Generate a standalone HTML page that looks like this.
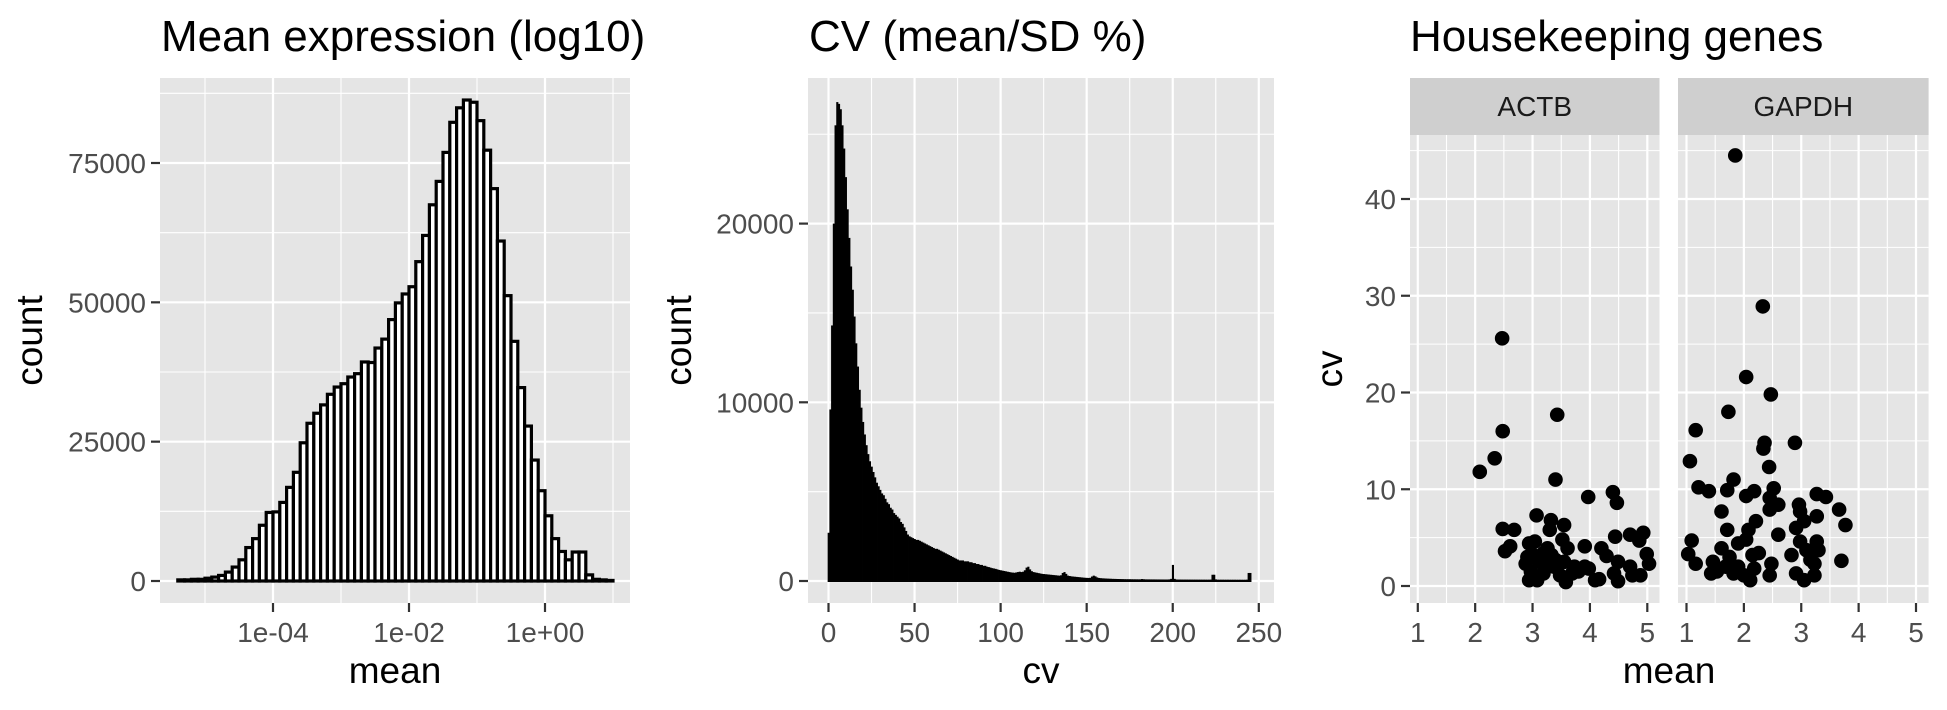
<!DOCTYPE html>
<html><head><meta charset="utf-8"><style>
html,body{margin:0;padding:0;background:#fff}
svg{display:block}
text{font-family:"Liberation Sans",Arial,sans-serif}
</style></head><body>
<svg id="chart" width="1947" height="710" viewBox="0 0 1947 710" xmlns="http://www.w3.org/2000/svg"></svg>
<script>
// ---- Panel 1 data: log10(mean) histogram, bins of 0.1 decade starting at -5.4
const meanBinStart = -5.4;
const meanBinWidth = 0.1;
const meanCounts = [200,200,300,300,500,700,1000,1600,2500,3800,6000,7600,10000,12300,12400,14100,16800,19500,24800,28300,30100,31600,33500,34800,35400,36600,37200,39300,39200,41800,43400,46900,49900,51500,52800,57300,62000,67500,71700,76900,82300,84900,86300,85900,82600,77300,70400,61000,51200,43000,34700,27800,21700,16200,11700,7600,5300,3800,5200,5200,1100,300,200,100];
const meanYTicks = [0,25000,50000,75000];
const meanXTicks = [-4,-2,0];
const meanXLabels = ["1e-04","1e-02","1e+00"];

// ---- Panel 2 data: cv histogram, bins of width 1 centred on 0..245
const cvCounts = [2700,9600,14300,20000,25500,26800,26700,26400,25500,24200,
22600,20800,19200,17600,16300,14800,13300,12000,10700,9700,
8900,8200,7600,7100,6700,6400,6100,5800,5500,5300,
5100,4900,4800,4600,4400,4300,4100,4000,3800,3700,
3600,3500,3300,3200,3000,2800,2600,2500,2450,2400,
2350,2300,2300,2250,2200,2150,2100,2050,2000,1950,
1900,1850,1800,1800,1750,1700,1650,1600,1550,1500,
1450,1400,1350,1300,1250,1200,1150,1150,1150,1100,
1100,1100,1050,1050,1000,1000,950,950,900,900,
850,850,800,780,750,720,700,680,650,620,
600,580,560,540,520,500,480,470,460,480,
500,520,500,520,600,750,800,650,550,500,
480,460,440,420,400,390,380,370,360,350,
340,330,320,310,300,320,450,500,400,300,
280,260,250,240,230,220,210,200,190,180,
175,170,180,250,300,260,200,170,160,150,
145,140,135,130,125,120,118,115,112,110,
108,105,102,100,100,100,98,96,95,94,
93,92,110,100,92,90,90,89,88,88,
87,86,86,85,85,84,84,84,90,120,
900,120,85,82,82,81,80,80,80,79,
79,78,78,78,77,77,77,76,76,76,
75,75,80,350,350,90,75,74,74,74,
73,73,73,72,72,72,72,71,71,71,
70,70,70,75,450,450];
const cvYTicks = [0,10000,20000];
const cvXTicks = [0,50,100,150,200,250];

// ---- Panel 3 data: housekeeping genes scatter
const actbMean = [2.47,2.48,2.34,2.08,3.43,3.40,3.07,3.32,3.30,3.55,3.52,3.97,4.40,4.47,2.48,2.68,2.61,2.52,4.44,4.70,4.93,4.86,4.99,5.03,3.91,4.20,4.29,2.94,3.04,3.26,3.61,2.91,2.97,2.94,3.08,3.19,3.26,3.37,3.48,3.58,3.69,3.80,3.91,3.98,4.09,4.16,4.42,4.49,4.70,4.74,4.88,3.12,3.40,2.88,3.01,3.19,3.33,3.55,3.73,4.49];
const actbCv = [25.6,16.0,13.2,11.8,17.7,11.0,7.3,6.8,5.8,6.3,4.8,9.2,9.7,8.6,5.9,5.8,4.1,3.6,5.1,5.3,5.5,4.7,3.3,2.3,4.1,3.9,3.1,4.4,4.6,3.9,3.9,3.0,1.5,0.6,0.6,1.3,2.3,2.0,1.1,0.4,1.3,1.5,2.0,1.8,0.6,0.7,1.3,0.5,2.0,1.1,1.1,2.5,2.7,2.3,3.2,3.4,3.2,2.5,2.0,2.5];
const gapdhMean = [1.85,2.33,2.04,2.47,1.73,1.16,2.36,2.34,2.89,1.06,2.44,1.21,1.39,1.82,1.71,2.04,2.18,2.52,2.45,2.60,2.45,2.96,3.27,3.43,3.66,3.77,3.70,1.61,2.21,1.71,2.08,2.60,2.91,3.05,3.27,2.98,1.09,1.03,1.16,1.43,1.53,1.46,1.61,1.75,1.90,2.00,2.11,2.15,2.18,1.90,2.04,2.26,2.45,2.48,2.83,2.91,2.98,3.05,3.16,3.23,3.27,3.30,3.23,3.09,1.68,1.82];
const gapdhCv = [44.5,28.9,21.6,19.8,18.0,16.1,14.8,14.2,14.8,12.9,12.3,10.2,9.8,11.0,9.9,9.3,9.8,10.1,9.1,8.4,7.9,8.4,9.5,9.2,7.9,6.3,2.6,7.7,6.7,5.8,5.8,5.3,6.0,6.7,7.2,7.7,4.7,3.3,2.3,1.3,1.5,2.5,3.9,3.0,2.0,1.1,0.6,3.2,1.8,4.4,4.8,3.4,1.1,2.3,3.2,1.3,4.6,0.6,2.7,1.1,4.6,3.7,2.3,3.7,2.0,1.3];
const hkYTicks = [0,10,20,30,40];
const hkXTicks = [1,2,3,4,5];

const NS = "http://www.w3.org/2000/svg";
const svg = document.getElementById('chart');
const PANEL_BG = '#e5e5e5';
function mk(tag, attrs, parent, txt){
  const e = document.createElementNS(NS, tag);
  for (const k in attrs) e.setAttribute(k, attrs[k]);
  if (txt !== undefined) e.textContent = txt;
  (parent || svg).appendChild(e);
  return e;
}
function lin(d0,d1,r0,r1){ return v => r0 + (v-d0)/(d1-d0)*(r1-r0); }

function panelBg(x0,y0,x1,y1,name){
  const r = mk('rect',{x:x0,y:y0,width:x1-x0,height:y1-y0,fill:PANEL_BG});
  
  
}
function gridV(x,y0,y1,major){ const l=mk('line',{x1:x,x2:x,y1:y0,y2:y1,stroke:'#fff','stroke-width':major?2.2:1.1});   }
function gridH(y,x0,x1,major){ const l=mk('line',{x1:x0,x2:x1,y1:y,y2:y,stroke:'#fff','stroke-width':major?2.2:1.1});   }
function yTick(y,xPanel,label){
  const t=mk('line',{x1:xPanel-9,x2:xPanel,y1:y,y2:y,stroke:'#333','stroke-width':2.2});
   
  const l=mk('text',{x:xPanel-14,y:y+10,'text-anchor':'end','font-size':28,fill:'#4d4d4d'},null,label);
   
}
function xTick(x,yPanel,label){
  const t=mk('line',{x1:x,x2:x,y1:yPanel,y2:yPanel+9,stroke:'#333','stroke-width':2.2});
   
  const l=mk('text',{x:x,y:642,'text-anchor':'middle','font-size':28,fill:'#4d4d4d'},null,label);
   
}
function title(x,txt,name){ const t=mk('text',{x:x,y:51,'font-size':44,fill:'#000'},null,txt);   }
function xTitle(x,txt){ const t=mk('text',{x:x,y:683,'text-anchor':'middle','font-size':37,fill:'#000'},null,txt);   }
function yTitle(x,y,txt){ const t=mk('text',{x:0,y:0,'text-anchor':'middle','font-size':37,fill:'#000',transform:`translate(${x},${y}) rotate(-90)`},null,txt);   }

const TOP=78, BOT=603;

// ===== Panel 1 =====
{
  const L=160, R=630;
  const xs = lin(-4,0,273,545);
  const ys = lin(0,75000,581,163);
  panelBg(L,TOP,R,BOT,'mean-panel');
  [-5,-3,-1,1].forEach(v=>gridV(xs(v),TOP,BOT,false));
  [12500,37500,62500,87500].forEach(v=>gridH(ys(v),L,R,false));
  meanXTicks.forEach(v=>gridV(xs(v),TOP,BOT,true));
  meanYTicks.forEach(v=>gridH(ys(v),L,R,true));
  const g = mk('g',{});
  
  
  meanCounts.forEach((c,i)=>{
    const a = xs(meanBinStart+i*meanBinWidth), b = xs(meanBinStart+(i+1)*meanBinWidth);
    const r = mk('rect',{x:a,y:ys(c),width:b-a,height:ys(0)-ys(c),fill:'#fff',stroke:'#000','stroke-width':3.2},g);
    
    
  });
  meanYTicks.forEach(v=>yTick(ys(v),L,String(v)));
  meanXTicks.forEach((v,i)=>xTick(xs(v),BOT,meanXLabels[i]));
  title(161,'Mean expression (log10)','mean-title');
  xTitle((L+R)/2,'mean');
  yTitle(42,(TOP+BOT)/2,'count');
}

// ===== Panel 2 =====
{
  const L=808, R=1274;
  const xs = lin(0,250,828.5,1258.8);
  const ys = lin(0,20000,581,223.6);
  panelBg(L,TOP,R,BOT,'cv-panel');
  [25,75,125,175,225].forEach(v=>gridV(xs(v),TOP,BOT,false));
  [5000,15000,25000].forEach(v=>gridH(ys(v),L,R,false));
  cvXTicks.forEach(v=>gridV(xs(v),TOP,BOT,true));
  cvYTicks.forEach(v=>gridH(ys(v),L,R,true));
  const g = mk('g',{});
  
  
  cvCounts.forEach((c,i)=>{
    const a = xs(i-0.5), b = xs(i+0.5);
    const r = mk('rect',{x:a,y:ys(c),width:b-a+0.4,height:ys(0)-ys(c)+1,fill:'#000'},g);
    
    
  });
  cvYTicks.forEach(v=>yTick(ys(v),L,String(v)));
  cvXTicks.forEach(v=>xTick(xs(v),BOT,String(v)));
  title(809,'CV (mean/SD %)','cv-title');
  xTitle((L+R)/2,'cv');
  yTitle(691,(TOP+BOT)/2,'count');
}

// ===== Panel 3 =====
{
  const STRIPB = 135;
  const ys = lin(0,40,586,199);
  const facets = [
    {name:'ACTB', L:1410, R:1659.5, x1:1417.8, x5:1647.3, mx:actbMean, cy:actbCv},
    {name:'GAPDH', L:1678, R:1928.6, x1:1686.5, x5:1916, mx:gapdhMean, cy:gapdhCv}
  ];
  facets.forEach((f,fi)=>{
    const xs = lin(1,5,f.x1,f.x5);
    const s = mk('rect',{x:f.L,y:TOP,width:f.R-f.L,height:STRIPB-TOP,fill:'#cfcfcf'});
    
    
    const st = mk('text',{x:(f.L+f.R)/2,y:116,'text-anchor':'middle','font-size':28,fill:'#1a1a1a'},null,f.name);
    
    
    panelBg(f.L,STRIPB,f.R,BOT,'facet-panel-'+f.name.toLowerCase());
    [1.5,2.5,3.5,4.5].forEach(v=>gridV(xs(v),STRIPB,BOT,false));
    [5,15,25,35,45].forEach(v=>gridH(ys(v),f.L,f.R,false));
    hkXTicks.forEach(v=>gridV(xs(v),STRIPB,BOT,true));
    hkYTicks.forEach(v=>gridH(ys(v),f.L,f.R,true));
    const g = mk('g',{});
    
    
    f.mx.forEach((m,i)=>{
      const c = mk('circle',{cx:xs(m),cy:ys(f.cy[i]),r:7.3,fill:'#000'},g);
      
      
    });
    hkXTicks.forEach(v=>xTick(xs(v),BOT,String(v)));
    if (fi===0) hkYTicks.forEach(v=>yTick(ys(v),f.L,String(v)));
  });
  title(1410,'Housekeeping genes','housekeeping-title');
  xTitle(1669,'mean');
  yTitle(1342,(STRIPB+BOT)/2,'cv');
}
</script>
</body></html>
